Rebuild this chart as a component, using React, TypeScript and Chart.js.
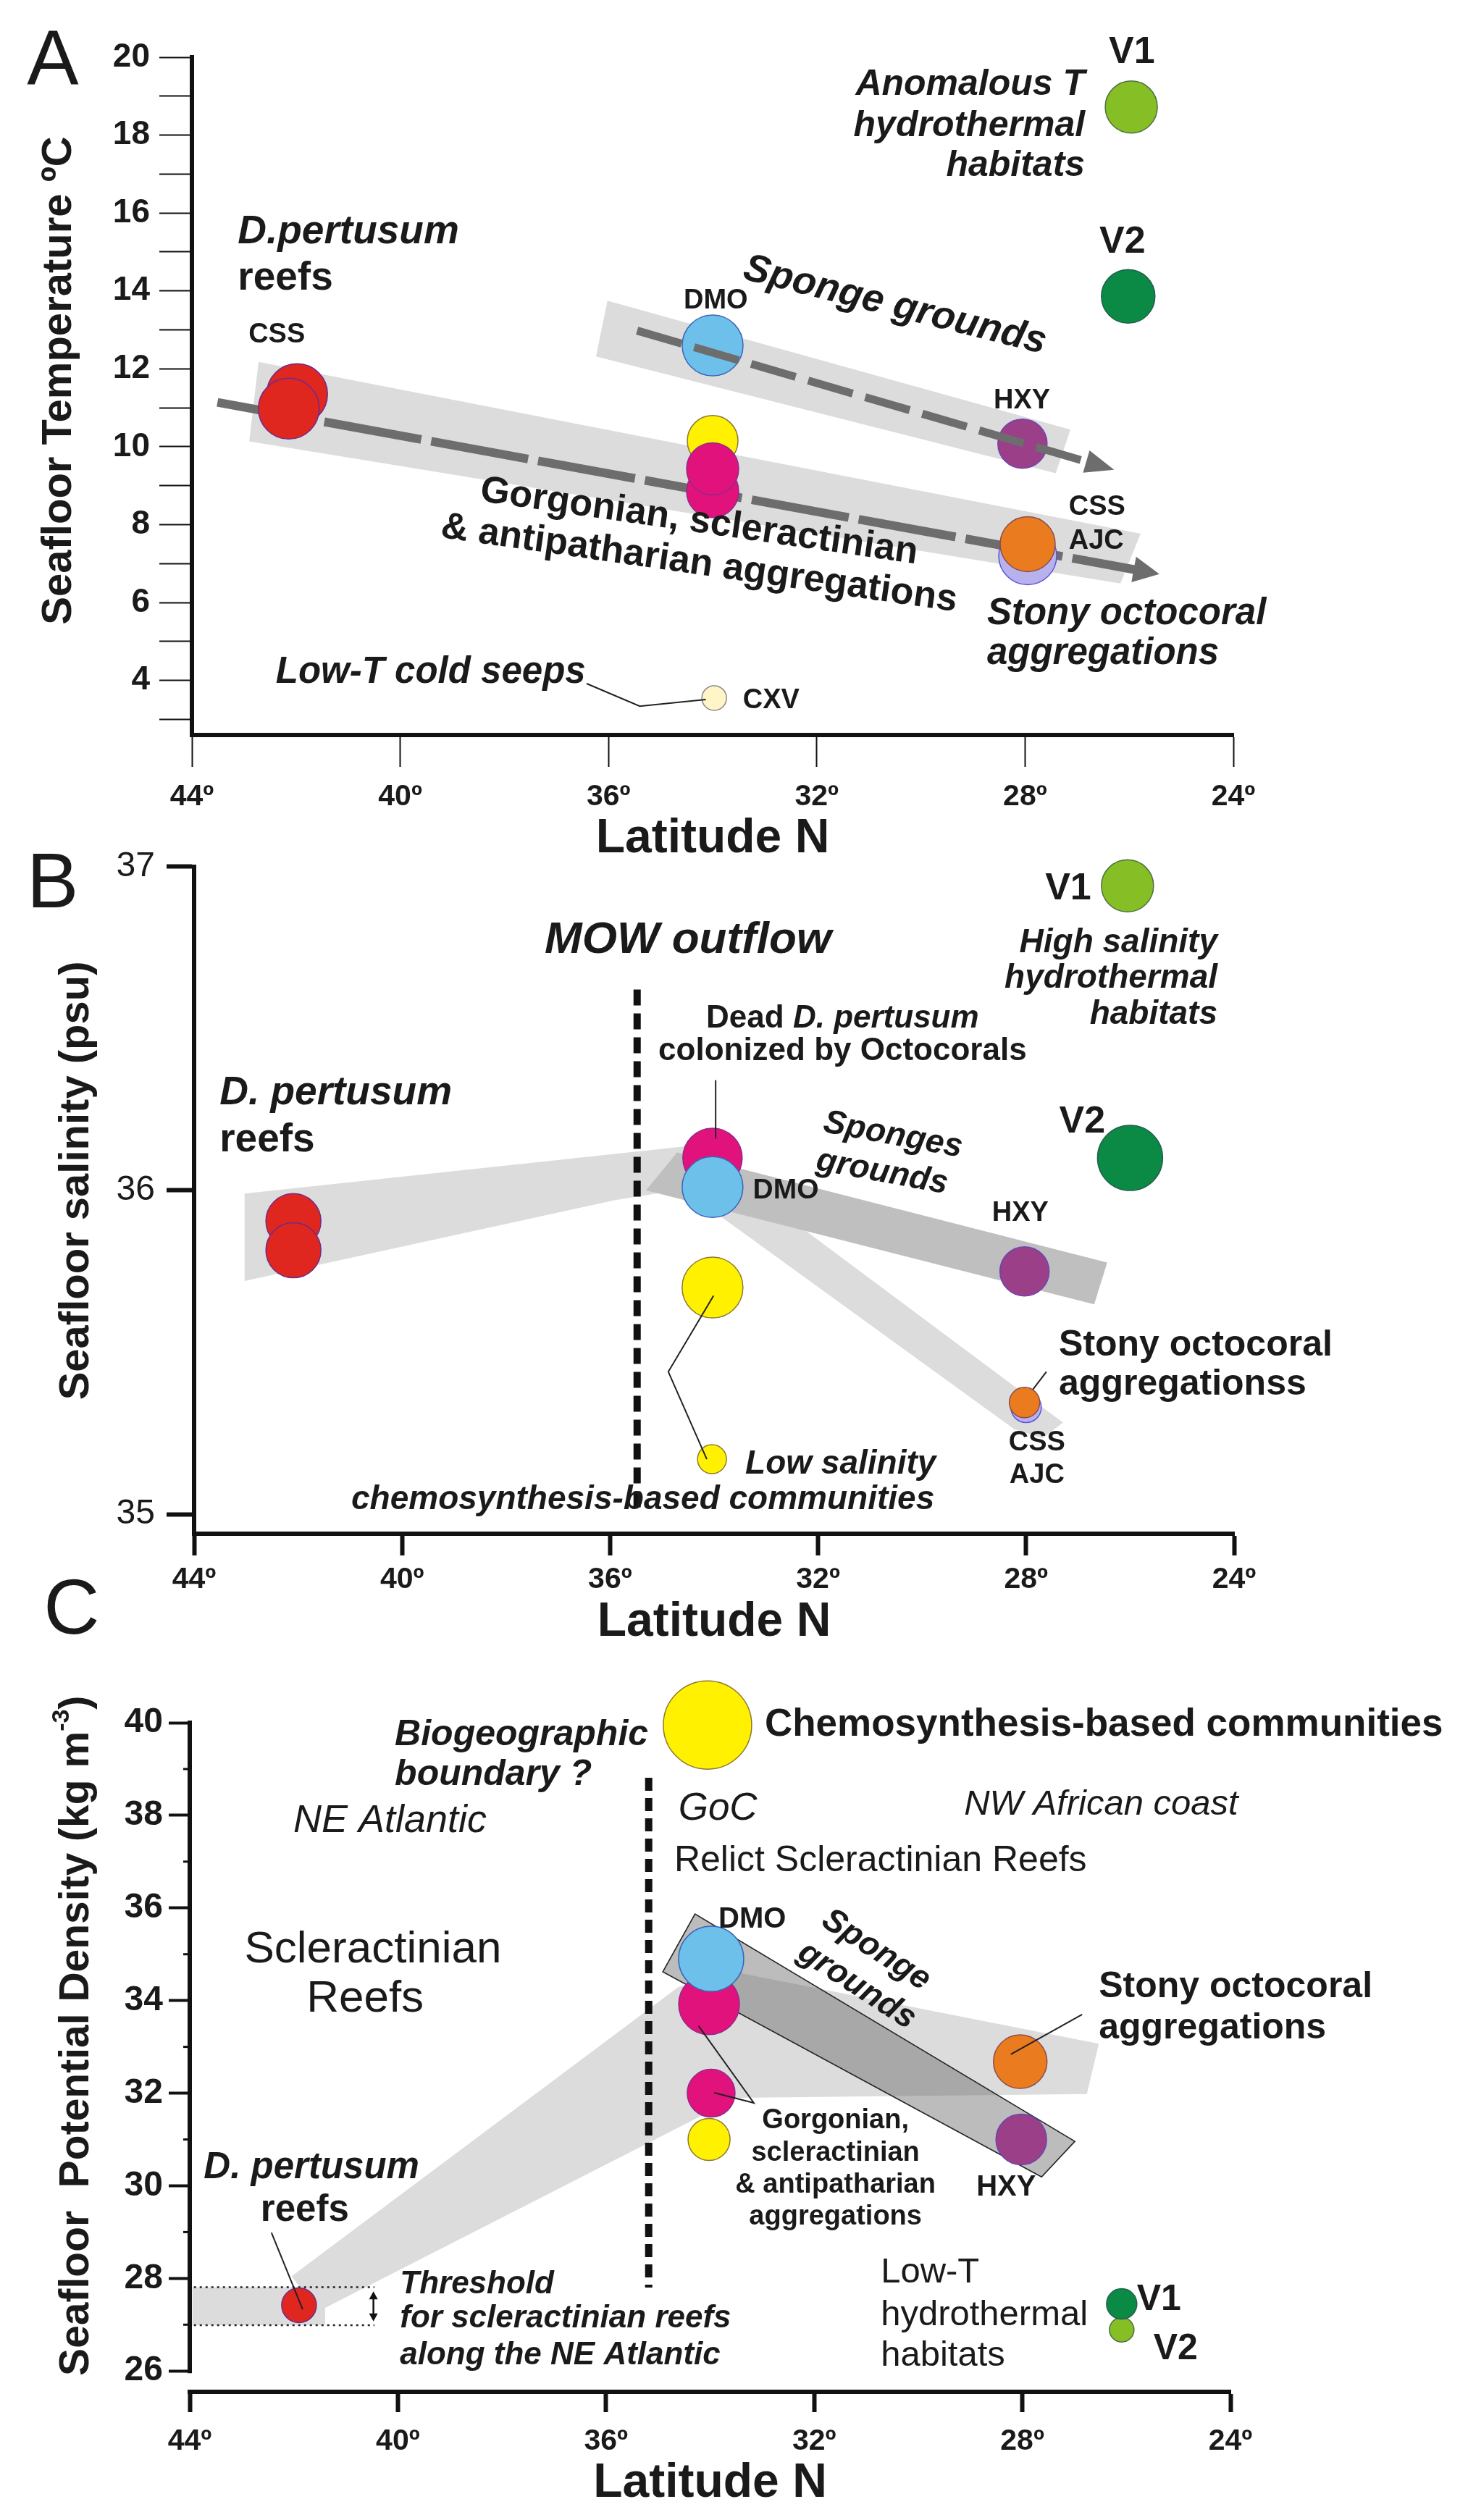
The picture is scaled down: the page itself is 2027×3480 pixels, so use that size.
import React, { useEffect, useRef } from 'react';
import { Chart, registerables } from 'chart.js';

Chart.register(...registerables);

const FAMILY = "'Liberation Sans', Arial, Helvetica, sans-serif";
Chart.defaults.font.family = FAMILY;
Chart.defaults.color = '#1a1a1a';
const W = 2027;
const INK = '#1a1a1a';
const GRAY = '#dcdcdc';

// ---------------- data ----------------
const latitudeTicks = [44, 40, 36, 32, 28, 24];

// Panel A: seafloor temperature (ºC)
const tempKinds = ['red', 'red', 'blue', 'yellow', 'magenta', 'magenta', 'pale', 'purple', 'lavender', 'orange', 'lime', 'green'];
const tempLatitude = [41.98, 42.14, 34.0, 34.0, 34.0, 34.0, 33.97, 28.05, 27.95, 27.95, 25.96, 26.02];
const tempValue = [11.35, 10.98, 12.6, 10.15, 8.85, 9.43, 3.55, 10.08, 7.2, 7.5, 18.72, 13.86];
const tempTicks = [3, 4, 5, 6, 7, 8, 9, 10, 11, 12, 13, 14, 15, 16, 17, 18, 19, 20];

// Panel B: seafloor salinity (psu)
const salKinds = ['red', 'red', 'magenta', 'blue', 'yellow', 'yellow', 'purple', 'lavender', 'orange', 'lime', 'green'];
const salLatitude = [42.09, 42.09, 34.03, 34.03, 34.03, 34.04, 28.03, 28.0, 28.03, 26.05, 26.0];
const salValue = [35.905, 35.815, 36.1, 36.01, 35.7, 35.17, 35.75, 35.33, 35.345, 36.94, 36.1];
const salTicks = [35, 36, 37];

// Panel C: seafloor potential density (kg m-3)
const densKinds = ['red', 'yellow', 'magenta', 'blue', 'yellow', 'magenta', 'orange', 'purple', 'lime', 'green'];
const densLatitude = [41.9, 34.05, 34.02, 33.98, 34.02, 33.98, 28.04, 28.02, 26.09, 26.09];
const densValue = [27.42, 39.95, 33.92, 34.9, 31.0, 32.0, 32.68, 31.0, 26.89, 27.45];
const densTicks = [26, 28, 30, 32, 34, 36, 38, 40];
const densMinorTicks = [27, 29, 31, 33, 35, 37, 39];

// ---------------- styles ----------------
const tempRadius = [42, 42, 42, 35, 36, 36, 17, 34, 40, 38, 36, 37];
const salRadius = [38, 38, 41, 42, 42, 20, 34, 21, 21, 36, 45];
const densRadius = [24, 61, 42, 45, 29, 33, 37, 35, 17, 21];

const kindFill: Record<string, string> = {
  red: '#E0271F', blue: '#6DC0EA', yellow: '#FFF100', magenta: '#E2127C', purple: '#9B3F88',
  lavender: '#B7B2EE', orange: '#EA7C1F', lime: '#86BE26', green: '#0A8A44', pale: '#FFF5C6',
};
const kindStroke: Record<string, string> = {
  red: '#6f2a8a', blue: '#3d64b8', yellow: '#8a7a30', magenta: '#8f2a8a', purple: '#6b45b0',
  lavender: '#5b55d8', orange: '#8a4d4d', lime: '#4d7040', green: '#22614f', pale: '#8a8a8a',
};

type Pt = [number, number];
type Run = { t: string; font: string; dy?: number };
type Ann =
  | { kind: 'poly'; layer: 'under' | 'over'; pts: Pt[]; fill: string; stroke?: string; lw?: number }
  | { kind: 'path'; layer: 'under' | 'over'; pts: Pt[]; color: string; width: number; dash?: number[]; head?: [number, number]; both?: boolean; cap?: CanvasLineCap }
  | { kind: 'text'; layer: 'under' | 'over'; at: Pt; runs: Run[]; align: 'left' | 'center' | 'right'; rot?: number; color?: string }
  | { kind: 'minor'; layer: 'under' | 'over'; values: number[]; len: number; width: number };

const F = (size: number, weight = 'normal', style = 'normal') => `${style} ${weight} ${size}px ${FAMILY}`;
const txt = (t: string, lat: number, v: number, font: string, align: 'left' | 'center' | 'right' = 'left', rot = 0): Ann =>
  ({ kind: 'text', layer: 'over', at: [lat, v], runs: [{ t, font }], align, rot });
const poly = (pts: Pt[], fill: string, stroke?: string, lw?: number): Ann => ({ kind: 'poly', layer: 'under', pts, fill, stroke, lw });
const path = (pts: Pt[], color: string, width: number, layer: 'under' | 'over', extra: any = {}): Ann =>
  ({ kind: 'path', layer, pts, color, width, ...extra });

// ---------------- annotations ----------------
const annA: Ann[] = [
  poly([[42.72, 12.18], [25.78, 7.77], [26.17, 6.49], [42.9, 10.14]], GRAY),
  poly([[36.02, 13.75], [27.13, 10.44], [27.41, 9.32], [36.24, 12.32]], GRAY),
  path([[43.51, 11.14], [25.42, 6.73]], '#6d6d6d', 12, 'under', { dash: [136, 14], head: [36, 36] }),
  path([[35.45, 12.98], [26.29, 9.41]], '#6d6d6d', 11, 'over', { dash: [64, 18], head: [40, 32] }),
  path([[36.42, 3.92], [35.4, 3.34], [34.13, 3.51]], '#222', 2, 'over'),
  txt('A', 46.67, 19.85, F(107), 'center'),
  txt('Seafloor Temperature ºC', 46.55, 11.7, F(58, 'bold'), 'center', -90),
  txt('D.pertusum', 43.12, 15.5, F(55, 'bold', 'italic')),
  txt('reefs', 43.12, 14.31, F(55, 'bold')),
  txt('CSS', 42.37, 12.87, F(38, 'bold'), 'center'),
  txt('DMO', 33.94, 13.75, F(38, 'bold'), 'center'),
  txt('Sponge grounds', 30.5, 13.62, F(54, 'bold', 'italic'), 'center', 14),
  txt('Gorgonian, scleractinian', 34.26, 8.07, F(52, 'bold'), 'center', 8.2),
  txt('& antipatharian aggregations', 34.26, 6.99, F(52, 'bold'), 'center', 8.2),
  txt('Stony octocoral', 28.73, 5.71, F(51, 'bold', 'italic')),
  txt('aggregations', 28.73, 4.69, F(51, 'bold', 'italic')),
  txt('HXY', 28.06, 11.18, F(38, 'bold'), 'center'),
  txt('CSS', 27.16, 8.44, F(38, 'bold')),
  txt('AJC', 27.16, 7.57, F(38, 'bold')),
  txt('V1', 25.95, 20.11, F(52, 'bold'), 'center'),
  txt('Anomalous T', 26.85, 19.29, F(50, 'bold', 'italic'), 'right'),
  txt('hydrothermal', 26.85, 18.23, F(50, 'bold', 'italic'), 'right'),
  txt('habitats', 26.85, 17.21, F(50, 'bold', 'italic'), 'right'),
  txt('V2', 26.13, 15.25, F(52, 'bold'), 'center'),
  txt('Low-T cold seeps', 42.39, 4.2, F(51, 'bold', 'italic')),
  txt('CXV', 33.42, 3.48, F(38, 'bold')),
];

const annB: Ann[] = [
  poly([[43.03, 35.99], [33.96, 36.146], [34.71, 36.0], [35.9, 35.97], [43.03, 35.72]], GRAY),
  poly([[33.53, 36.03], [27.29, 35.283], [27.68, 35.235], [28.23, 35.263], [34.36, 35.976]], GRAY),
  poly([[35.31, 36.0], [34.71, 36.117], [26.44, 35.777], [26.69, 35.648]], '#bfbfbf'),
  path([[35.48, 36.62], [35.48, 35.02]], '#111', 10, 'under', { dash: [22, 11] }),
  path([[33.97, 36.34], [33.97, 36.16]], '#222', 2, 'over'),
  path([[34.01, 35.675], [34.88, 35.44], [34.14, 35.17]], '#222', 2, 'over'),
  path([[27.87, 35.385], [27.61, 35.44]], '#222', 2, 'over'),
  txt('B', 46.72, 36.94, F(107), 'center'),
  txt('Seafloor salinity (psu)', 46.26, 36.03, F(58, 'bold'), 'center', -90),
  txt('MOW outflow', 34.5, 36.77, F(62, 'bold', 'italic'), 'center'),
  { kind: 'text', layer: 'over', at: [31.53, 36.53], align: 'center', runs: [{ t: 'Dead ', font: F(44, 'bold') }, { t: 'D. pertusum', font: F(44, 'bold', 'italic') }] },
  txt('colonized by Octocorals', 31.53, 36.43, F(44, 'bold'), 'center'),
  txt('D. pertusum', 43.51, 36.3, F(55, 'bold', 'italic')),
  txt('reefs', 43.51, 36.155, F(55, 'bold')),
  txt('Sponges', 30.56, 36.17, F(46, 'bold', 'italic'), 'center', 10.5),
  txt('grounds', 30.77, 36.055, F(46, 'bold', 'italic'), 'center', 10.5),
  txt('DMO', 32.62, 36.0, F(39, 'bold'), 'center'),
  txt('HXY', 28.11, 35.93, F(38, 'bold'), 'center'),
  txt('V1', 27.19, 36.93, F(52, 'bold'), 'center'),
  txt('High salinity', 24.32, 36.763, F(46, 'bold', 'italic'), 'right'),
  txt('hydrothermal', 24.32, 36.653, F(46, 'bold', 'italic'), 'right'),
  txt('habitats', 24.32, 36.542, F(46, 'bold', 'italic'), 'right'),
  txt('V2', 26.92, 36.21, F(52, 'bold'), 'center'),
  txt('Stony octocoral', 27.37, 35.52, F(50, 'bold')),
  txt('aggregationss', 27.37, 35.4, F(50, 'bold')),
  txt('CSS', 27.79, 35.22, F(38, 'bold'), 'center'),
  txt('AJC', 27.79, 35.12, F(38, 'bold'), 'center'),
  txt('Low salinity', 33.4, 35.155, F(46, 'bold', 'italic')),
  txt('chemosynthesis-based communities', 35.37, 35.044, F(46, 'bold', 'italic'), 'center'),
];

const annC: Ann[] = [
  poly([[43.95, 27.81], [41.4, 27.81], [41.4, 26.99], [43.95, 26.99]], GRAY),
  poly([[42.04, 28.05], [34.61, 34.29], [33.55, 34.62], [26.53, 33.07], [26.76, 31.98], [33.49, 31.9], [41.56, 27.27]], GRAY),
  poly([[34.91, 34.62], [34.29, 35.87], [26.99, 30.96], [27.63, 30.19]], 'rgba(95,95,95,0.42)', '#222', 1.6),
  path([[43.92, 27.81], [40.45, 27.81]], '#222', 2.5, 'under', { dash: [3, 5] }),
  path([[43.92, 26.99], [40.45, 26.99]], '#222', 2.5, 'under', { dash: [3, 5] }),
  path([[35.18, 38.81], [35.18, 27.8]], '#111', 10, 'under', { dash: [18, 10] }),
  path([[40.47, 27.72], [40.47, 27.07]], '#111', 2.5, 'under', { head: [11, 12], both: true }),
  path([[44, 40], [44, 26]], '#111', 6, 'under', { cap: 'square' }),
  { kind: 'minor', layer: 'under', values: densMinorTicks, len: 9, width: 3 },
  path([[42.43, 28.99], [41.83, 27.33]], '#222', 2, 'over'),
  path([[28.22, 32.84], [26.85, 33.7]], '#222', 2, 'over'),
  path([[34.22, 33.45], [33.16, 31.79], [33.92, 32.01]], '#222', 2, 'over'),
  txt('C', 46.27, 42.38, F(107), 'center'),
  {
    kind: 'text', layer: 'over', at: [46.17, 33.24], align: 'center', rot: -90,
    runs: [{ t: 'Seafloor  Potential Density (kg m', font: F(57, 'bold') }, { t: '-3', font: F(34, 'bold'), dy: -20 }, { t: ')', font: F(57, 'bold') }],
  },
  txt('Biogeographic', 40.06, 39.73, F(50, 'bold', 'italic')),
  txt('boundary ?', 40.06, 38.87, F(50, 'bold', 'italic')),
  txt('NE Atlantic', 42.01, 37.87, F(54, 'normal', 'italic')),
  txt('Scleractinian', 40.48, 35.09, F(62), 'center'),
  txt('Reefs', 40.63, 34.02, F(62), 'center'),
  txt('D. pertusum', 41.66, 30.38, F(51, 'bold', 'italic'), 'center'),
  txt('reefs', 41.79, 29.46, F(51, 'bold'), 'center'),
  txt('Threshold', 39.96, 27.86, F(44, 'bold', 'italic')),
  txt('for scleractinian reefs', 39.96, 27.13, F(44, 'bold', 'italic')),
  txt('along the NE Atlantic', 39.96, 26.33, F(44, 'bold', 'italic')),
  txt('GoC', 34.61, 38.14, F(53, 'normal', 'italic')),
  txt('Relict Scleractinian Reefs', 34.69, 37.01, F(50)),
  txt('Chemosynthesis-based communities', 32.95, 39.94, F(53, 'bold')),
  txt('NW African coast', 29.12, 38.22, F(49, 'normal', 'italic')),
  txt('DMO', 33.19, 35.75, F(40, 'bold'), 'center'),
  txt('Sponge', 30.81, 35.09, F(46, 'bold', 'italic'), 'center', 33),
  txt('grounds', 31.18, 34.32, F(46, 'bold', 'italic'), 'center', 33),
  txt('Stony octocoral', 26.53, 34.29, F(50, 'bold')),
  txt('aggregations', 26.53, 33.4, F(50, 'bold')),
  txt('Gorgonian,', 31.59, 31.4, F(38, 'bold'), 'center'),
  txt('scleractinian', 31.59, 30.71, F(38, 'bold'), 'center'),
  txt('& antipatharian', 31.59, 30.02, F(38, 'bold'), 'center'),
  txt('aggregations', 31.59, 29.32, F(38, 'bold'), 'center'),
  txt('HXY', 28.31, 29.96, F(40, 'bold'), 'center'),
  txt('Low-T', 30.72, 28.13, F(49)),
  txt('hydrothermal', 30.72, 27.2, F(49)),
  txt('habitats', 30.72, 26.33, F(49)),
  txt('V1', 25.8, 27.53, F(50, 'bold')),
  txt('V2', 25.48, 26.47, F(50, 'bold')),
];

// ---------------- drawing helpers ----------------
function drawAnn(chart: any, a: Ann) {
  const ctx: CanvasRenderingContext2D = chart.ctx;
  const xs = chart.scales.x;
  const ys = chart.scales.y;
  const P = (p: Pt): Pt => [xs.getPixelForValue(p[0]), ys.getPixelForValue(p[1])];
  ctx.save();
  if (a.kind === 'poly') {
    ctx.beginPath();
    a.pts.map(P).forEach(([x, y], i) => (i ? ctx.lineTo(x, y) : ctx.moveTo(x, y)));
    ctx.closePath();
    ctx.fillStyle = a.fill;
    ctx.fill();
    if (a.stroke) {
      ctx.strokeStyle = a.stroke;
      ctx.lineWidth = a.lw || 1;
      ctx.stroke();
    }
  } else if (a.kind === 'path') {
    const px = a.pts.map(P);
    ctx.fillStyle = a.color;
    const head = (tipIdx: number, prevIdx: number) => {
      const [hl, hw] = a.head!;
      const tip = px[tipIdx];
      const prev = px[prevIdx];
      const dx = tip[0] - prev[0];
      const dy = tip[1] - prev[1];
      const L = Math.hypot(dx, dy);
      const ux = dx / L;
      const uy = dy / L;
      const bx = tip[0] - ux * hl;
      const by = tip[1] - uy * hl;
      ctx.beginPath();
      ctx.moveTo(tip[0], tip[1]);
      ctx.lineTo(bx - (uy * hw) / 2, by + (ux * hw) / 2);
      ctx.lineTo(bx + (uy * hw) / 2, by - (ux * hw) / 2);
      ctx.closePath();
      ctx.fill();
      px[tipIdx] = [bx + ux * 2, by + uy * 2];
    };
    if (a.head) {
      head(px.length - 1, px.length - 2);
      if (a.both) head(0, 1);
    }
    ctx.beginPath();
    px.forEach(([x, y], i) => (i ? ctx.lineTo(x, y) : ctx.moveTo(x, y)));
    ctx.strokeStyle = a.color;
    ctx.lineWidth = a.width;
    ctx.lineCap = a.cap || 'butt';
    ctx.lineJoin = 'miter';
    ctx.setLineDash(a.dash || []);
    ctx.stroke();
  } else if (a.kind === 'minor') {
    const left = chart.chartArea.left;
    ctx.strokeStyle = '#111';
    ctx.lineWidth = a.width;
    a.values.forEach((v) => {
      const y = ys.getPixelForValue(v);
      ctx.beginPath();
      ctx.moveTo(left - a.len, y);
      ctx.lineTo(left, y);
      ctx.stroke();
    });
  } else if (a.kind === 'text') {
    const [x, y] = P(a.at);
    ctx.translate(x, y);
    if (a.rot) ctx.rotate((a.rot * Math.PI) / 180);
    ctx.textBaseline = 'middle';
    ctx.textAlign = 'left';
    ctx.fillStyle = a.color || INK;
    let total = 0;
    const widths = a.runs.map((r) => {
      ctx.font = r.font;
      const w = ctx.measureText(r.t).width;
      total += w;
      return w;
    });
    let cx = a.align === 'left' ? 0 : a.align === 'right' ? -total : -total / 2;
    a.runs.forEach((r, i) => {
      ctx.font = r.font;
      ctx.fillText(r.t, cx, r.dy || 0);
      cx += widths[i];
    });
  }
  ctx.restore();
}

const annotationPlugin = (anns: Ann[]) => ({
  id: 'panelAnnotations',
  beforeDatasetsDraw(chart: any) {
    anns.filter((a) => a.layer === 'under').forEach((a) => drawAnn(chart, a));
  },
  afterDatasetsDraw(chart: any) {
    anns.filter((a) => a.layer === 'over').forEach((a) => drawAnn(chart, a));
  },
});

interface PanelCfg {
  offset: number;
  height: number;
  areaTop: number;
  yWidth: number;
  rightPad: number;
  xAxisH: number;
  yMin: number;
  yMax: number;
  yTicks: number[];
  yLabel: (v: number) => string;
  yTick: { len: number; width: number; pad: number; font: any };
  yBorder: boolean;
  xTick: { len: number; width: number; pad: number };
  xTitlePad: number;
  lat: number[];
  val: number[];
  kinds: string[];
  radius: number[];
  anns: Ann[];
}

function buildConfig(c: PanelCfg): any {
  return {
    type: 'scatter',
    data: {
      datasets: [
        {
          data: c.lat.map((x, i) => ({ x, y: c.val[i] })),
          pointRadius: c.radius,
          pointHoverRadius: c.radius,
          pointBackgroundColor: c.kinds.map((k) => kindFill[k]),
          pointBorderColor: c.kinds.map((k) => kindStroke[k]),
          pointBorderWidth: 1.5,
          showLine: false,
          clip: false,
        },
      ],
    },
    options: {
      responsive: false,
      animation: false,
      devicePixelRatio: 1,
      events: [],
      layout: { padding: { top: c.areaTop, right: c.rightPad, left: 0, bottom: 0 } },
      plugins: { legend: { display: false }, tooltip: { enabled: false } },
      scales: {
        x: {
          type: 'linear',
          reverse: true,
          min: 24,
          max: 44,
          afterBuildTicks: (s: any) => {
            s.ticks = latitudeTicks.map((v) => ({ value: v }));
          },
          afterFit: (s: any) => {
            s.height = c.xAxisH;
          },
          grid: { drawOnChartArea: false, drawTicks: true, tickLength: c.xTick.len, tickWidth: c.xTick.width, tickColor: '#111' },
          border: { display: true, color: '#111', width: 6 },
          ticks: {
            autoSkip: false,
            maxRotation: 0,
            padding: c.xTick.pad,
            color: INK,
            font: { family: FAMILY, size: 41, weight: 'bold' },
            callback: (v: number) => `${v}º`,
          },
          title: {
            display: true,
            text: 'Latitude N',
            color: INK,
            font: { family: FAMILY, size: 66, weight: 'bold' },
            padding: { top: 0, bottom: c.xTitlePad },
          },
        },
        y: {
          type: 'linear',
          min: c.yMin,
          max: c.yMax,
          afterBuildTicks: (s: any) => {
            s.ticks = c.yTicks.map((v) => ({ value: v }));
          },
          afterFit: (s: any) => {
            s.width = c.yWidth;
          },
          grid: { drawOnChartArea: false, drawTicks: true, tickLength: c.yTick.len, tickWidth: c.yTick.width, tickColor: '#111' },
          border: { display: c.yBorder, color: '#111', width: 6 },
          ticks: { autoSkip: false, padding: c.yTick.pad, color: INK, font: c.yTick.font, callback: (v: number) => c.yLabel(v) },
        },
      },
    },
    plugins: [annotationPlugin(c.anns)],
  };
}

const panels: PanelCfg[] = [
  {
    offset: 0, height: 1200, areaTop: 79, yWidth: 265, rightPad: 324, xAxisH: 185,
    yMin: 2.6, yMax: 20, yTicks: tempTicks, yLabel: (v) => (v % 2 === 0 ? String(v) : ''),
    yTick: { len: 45, width: 2, pad: 13, font: { family: FAMILY, size: 46, weight: 'bold' } }, yBorder: true,
    xTick: { len: 44, width: 2, pad: 17 }, xTitlePad: 2,
    lat: tempLatitude, val: tempValue, kinds: tempKinds, radius: tempRadius, anns: annA,
  },
  {
    offset: 1150, height: 1150, areaTop: 37, yWidth: 268, rightPad: 323, xAxisH: 182,
    yMin: 34.94, yMax: 37, yTicks: salTicks, yLabel: (v) => String(v),
    yTick: { len: 38, width: 6, pad: 16, font: { family: FAMILY, size: 48, weight: 'normal' } }, yBorder: true,
    xTick: { len: 30, width: 6, pad: 9 }, xTitlePad: 20,
    lat: salLatitude, val: salValue, kinds: salKinds, radius: salRadius, anns: annB,
  },
  {
    offset: 2150, height: 1330, areaTop: 229, yWidth: 262, rightPad: 328, xAxisH: 177,
    yMin: 25.55, yMax: 40, yTicks: densTicks, yLabel: (v) => String(v),
    yTick: { len: 29, width: 4, pad: 8, font: { family: FAMILY, size: 48, weight: 'bold' } }, yBorder: false,
    xTick: { len: 28, width: 6, pad: 16 }, xTitlePad: 11,
    lat: densLatitude, val: densValue, kinds: densKinds, radius: densRadius, anns: annC,
  },
];

function Panel({ cfg }: { cfg: PanelCfg }) {
  const ref = useRef<HTMLCanvasElement>(null);
  useEffect(() => {
    const chart = new Chart(ref.current as HTMLCanvasElement, buildConfig(cfg));
    return () => chart.destroy();
  }, [cfg]);
  return (
    <canvas
      ref={ref}
      width={W}
      height={cfg.height}
      style={{ position: 'absolute', left: 0, top: cfg.offset, width: W, height: cfg.height }}
    />
  );
}

export default function App() {
  return (
    <div style={{ position: 'absolute', left: 0, top: 0, width: W, height: 3480, background: '#fff', overflow: 'hidden' }}>
      {panels.map((p, i) => (
        <Panel key={i} cfg={p} />
      ))}
    </div>
  );
}
